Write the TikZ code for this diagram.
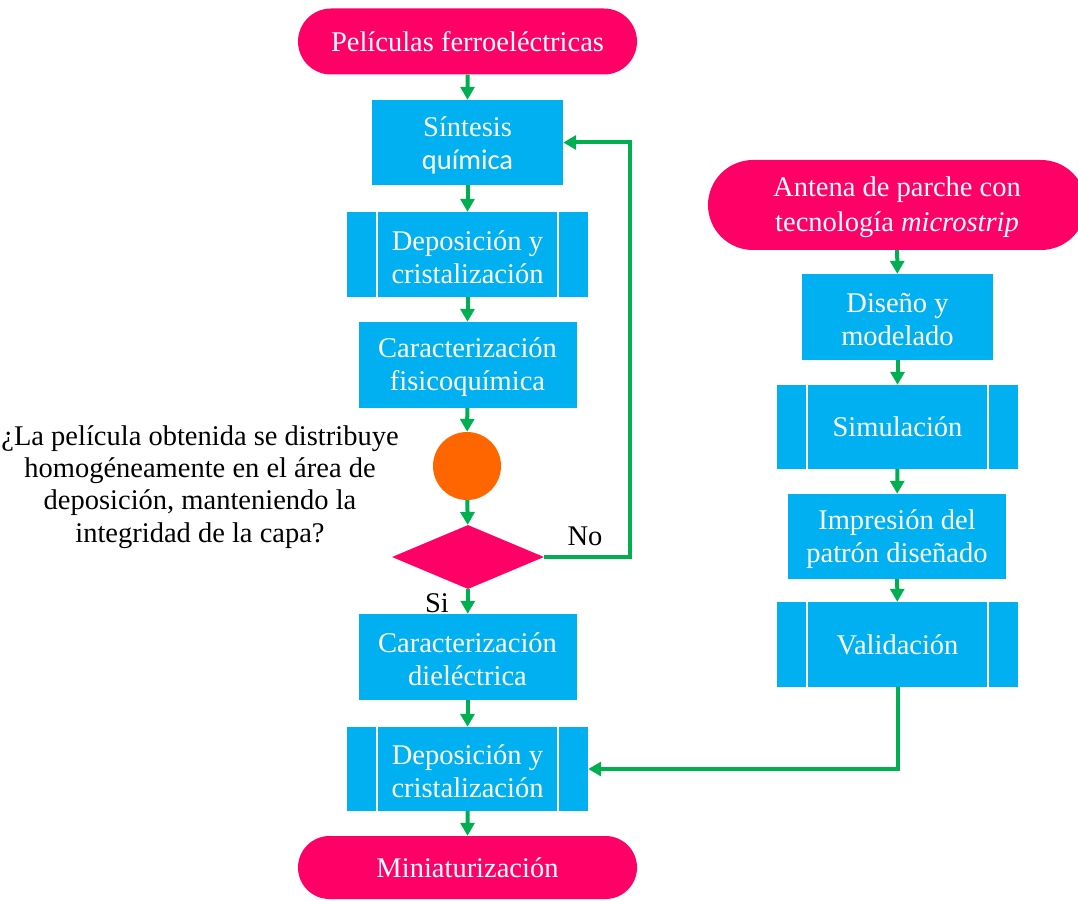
\documentclass[tikz,border=0pt]{standalone}
\usepackage{fontspec}
\setmainfont{Liberation Serif}
\newfontfamily\calfont{Carlito}
\usetikzlibrary{arrows.meta,shapes.misc,shapes.geometric}
\definecolor{pinkc}{HTML}{FF0066}
\definecolor{bluec}{HTML}{00B0F0}
\definecolor{greenc}{HTML}{00B050}
\definecolor{orangec}{HTML}{FF6600}
\newcommand{\dn}{\rule{0pt}{25pt}}
\begin{document}
\begin{tikzpicture}[x=1pt,y=-1pt,
 every node/.style={font=\fontsize{28.5}{33}\selectfont, text=white, inner sep=0pt, align=center},
 term/.style={rounded rectangle, fill=pinkc},
 proc/.style={rectangle, fill=bluec},
 predef/.style={proc, path picture={
   \draw[white,line width=1.5pt] ([xshift=30pt]path picture bounding box.north west) -- ([xshift=30pt]path picture bounding box.south west);
   \draw[white,line width=1.5pt] ([xshift=-30pt]path picture bounding box.north east) -- ([xshift=-30pt]path picture bounding box.south east);}},
 lbl/.style={text=black},
 arr/.style={draw=greenc, line width=4pt, line join=miter, -{Triangle[length=13pt,width=14pt]}},
]
\useasboundingbox (0,0) rectangle (1078,901);
% left column
\node[term, minimum width=339pt, minimum height=66pt] (p1) at (467.5,41.5) {Películas ferroeléctricas};
\node[proc, minimum width=191pt, minimum height=85pt] (s1) at (467.5,142.5) {\dn Síntesis\\{\calfont química}};
\node[predef, minimum width=241pt, minimum height=85pt] (d1) at (467.5,254.5) {\dn Deposición y\\cristalización};
\node[proc, minimum width=218pt, minimum height=86pt] (c1) at (467.5,365) {\dn Caracterización\\fisicoquímica};
\node[circle, fill=orangec, minimum size=68pt] (circ) at (467,466) {};
\node[diamond, fill=pinkc, minimum width=152pt, minimum height=64pt] (dia) at (468,557) {};
\node[proc, minimum width=218pt, minimum height=86pt] (c2) at (467.5,657) {\dn Caracterización\\dieléctrica};
\node[predef, minimum width=241pt, minimum height=84pt] (d2) at (467.5,769) {\dn Deposición y\\cristalización};
\node[term, minimum width=339pt, minimum height=63pt] (m) at (467.5,867.5) {Miniaturización};
% question and labels
\node[lbl, font=\fontsize{28.5}{32.3}\selectfont] (q) at (200,487) {¿La película obtenida se distribuye\\homogéneamente en el área de\\deposición, manteniendo la\\integridad de la capa?};
\node[lbl] (no) at (585,536) {No};
\node[lbl] (si) at (437,603) {Si};
% right column
\node[term, minimum width=378pt, minimum height=90pt, font=\fontsize{28.5}{35}\selectfont] (p2) at (897,205) {\dn Antena de parche con\\tecnología \textit{microstrip}};
\node[proc, minimum width=191pt, minimum height=86pt] (ds) at (897.5,317) {\dn Diseño y\\modelado};
\node[predef, minimum width=241pt, minimum height=84pt] (sim) at (897.5,427) {Simulación};
\node[proc, minimum width=218pt, minimum height=85pt] (imp) at (897,536.5) {\dn Impresión del\\patrón diseñado};
\node[predef, minimum width=241pt, minimum height=85pt] (val) at (897.5,644.5) {Validación};
% connectors
\draw[arr] (p1) -- (s1);
\draw[arr] (s1) -- (d1);
\draw[arr] (d1) -- (c1);
\draw[arr] (c1) -- (circ);
\draw[arr] (circ) -- (dia);
\draw[arr] (dia) -- (c2);
\draw[arr] (c2) -- (d2);
\draw[arr] (d2) -- (m);
\coordinate (fb) at (630,557);
\draw[arr] (dia.east) -- (fb) |- (s1.east);
\draw[arr] (p2) -- (ds);
\draw[arr] (ds) -- (sim);
\draw[arr] (sim) -- (imp);
\draw[arr] (imp) -- (val);
\draw[arr] (val.south) |- (d2.east);
\end{tikzpicture}
\end{document}
